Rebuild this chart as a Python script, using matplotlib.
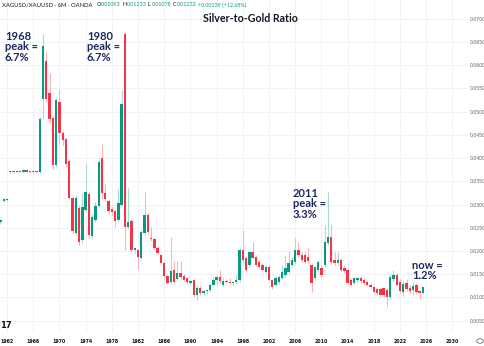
import matplotlib
matplotlib.use("Agg")
import matplotlib.pyplot as plt
import numpy as np

# XAGUSD/XAUUSD, 6M candles (silver priced in gold), values in percent
years = np.arange(1961.0, 2026.0, 0.5)

open_pct = [2.62, 3.08, 3.11, 3.69, 3.71, 3.69, 3.70, 3.70, 3.75, 3.70,
            3.69, 3.70, 3.69, 5.26, 6.09, 5.39, 4.87, 3.86, 5.21, 4.53,
            4.40, 3.93, 3.13, 2.38, 2.92, 2.23, 2.88, 3.22, 2.32, 2.66,
            2.96, 4.01, 3.24, 3.07, 2.90, 2.85, 2.66, 3.00, 6.67, 2.51,
            2.64, 2.02, 2.02, 1.85, 2.38, 2.77, 2.26, 2.25, 2.06, 1.91,
            1.74, 1.46, 1.33, 1.59, 1.40, 1.52, 1.46, 1.42, 1.31, 1.37,
            1.05, 1.20, 1.09, 1.14, 1.16, 1.27, 1.37, 1.44, 1.27, 1.35,
            1.33, 1.31, 1.33, 1.37, 2.02, 1.84, 1.70, 1.97, 1.87, 1.76,
            1.70, 1.55, 1.65, 1.37, 1.27, 1.33, 1.42, 1.48, 1.55, 1.70,
            1.76, 2.02, 1.91, 1.91, 1.87, 1.70, 1.42, 1.59, 1.63, 1.70,
            2.17, 2.30, 1.80, 1.74, 1.80, 1.63, 1.59, 1.37, 1.31, 1.37,
            1.42, 1.37, 1.33, 1.27, 1.22, 1.18, 1.18, 1.20, 1.16, 1.01,
            1.40, 1.48, 1.33, 1.12, 1.31, 1.20, 1.16, 1.27, 1.14, 1.093]
high_pct = [2.68, 3.13, 3.13, 3.72, 3.72, 3.72, 3.73, 3.77, 3.76, 3.71,
            3.71, 3.71, 4.88, 6.67, 6.30, 5.82, 4.91, 5.30, 5.49, 4.59,
            4.44, 3.99, 3.18, 3.20, 2.98, 3.24, 3.88, 3.26, 2.79, 3.05,
            3.99, 4.31, 3.45, 3.11, 2.94, 2.88, 3.35, 5.47, 6.71, 3.35,
            2.70, 2.08, 2.04, 2.45, 3.26, 2.81, 2.51, 2.28, 2.10, 1.94,
            1.78, 1.50, 2.30, 1.78, 1.78, 1.78, 1.50, 1.44, 1.37, 1.40,
            1.27, 1.24, 1.16, 1.18, 1.31, 1.44, 1.48, 1.59, 1.42, 1.40,
            1.41, 1.35, 1.48, 2.07, 2.45, 1.90, 2.00, 2.19, 1.92, 1.80,
            1.74, 1.69, 1.70, 1.40, 1.46, 1.48, 1.70, 1.91, 2.00, 1.87,
            2.27, 2.19, 1.98, 1.97, 2.08, 1.74, 1.68, 1.80, 1.70, 2.55,
            3.26, 2.55, 1.98, 1.97, 1.85, 1.70, 1.63, 1.40, 1.45, 1.45,
            1.46, 1.41, 1.37, 1.31, 1.25, 1.20, 1.22, 1.22, 1.20, 1.50,
            1.59, 1.52, 1.40, 1.35, 1.40, 1.27, 1.33, 1.31, 1.16, 1.233]
low_pct = [2.58, 3.06, 3.08, 3.68, 3.68, 3.68, 3.69, 3.69, 3.69, 3.68,
           3.68, 3.68, 3.68, 4.85, 5.20, 4.74, 3.77, 3.80, 4.31, 4.27,
           3.80, 3.11, 2.38, 2.34, 2.12, 2.17, 2.83, 2.27, 2.27, 2.62,
           2.92, 3.11, 3.07, 2.81, 2.77, 2.51, 2.62, 2.98, 2.02, 2.47,
           1.98, 1.96, 1.61, 1.80, 2.34, 2.36, 2.21, 2.03, 1.93, 1.72,
           1.43, 1.28, 1.28, 1.28, 1.35, 1.40, 1.35, 1.30, 1.28, 1.00,
           0.94, 1.05, 1.05, 1.07, 1.12, 1.24, 1.30, 1.31, 1.24, 1.31,
           1.29, 1.27, 1.30, 1.33, 1.76, 1.55, 1.66, 1.82, 1.68, 1.62,
           1.56, 1.52, 1.35, 1.18, 1.24, 1.30, 1.40, 1.45, 1.52, 1.66,
           1.72, 1.87, 1.76, 1.72, 1.74, 1.12, 1.38, 1.55, 1.45, 1.66,
           2.12, 1.72, 1.70, 1.70, 1.55, 1.52, 1.28, 1.24, 1.28, 1.33,
           1.32, 1.27, 1.24, 1.19, 1.09, 1.06, 1.02, 1.02, 0.79, 0.97,
           1.35, 1.24, 1.10, 1.03, 1.15, 1.09, 1.05, 1.07, 0.97, 1.078]
close_pct = [2.66, 3.11, 3.09, 3.71, 3.69, 3.70, 3.72, 3.75, 3.70, 3.69,
             3.70, 3.69, 4.83, 6.42, 5.26, 4.83, 3.84, 5.24, 4.53, 4.38,
             3.88, 3.15, 2.42, 3.13, 2.19, 2.94, 3.26, 2.34, 2.73, 2.96,
             3.91, 3.24, 3.11, 2.85, 2.83, 2.64, 3.03, 5.17, 2.51, 2.62,
             2.02, 2.06, 1.87, 2.40, 2.77, 2.40, 2.25, 2.06, 1.95, 1.74,
             1.46, 1.31, 1.57, 1.33, 1.52, 1.44, 1.37, 1.33, 1.35, 1.05,
             1.20, 1.09, 1.14, 1.16, 1.27, 1.37, 1.44, 1.35, 1.35, 1.33,
             1.31, 1.33, 1.37, 2.02, 1.80, 1.59, 1.97, 1.85, 1.70, 1.65,
             1.59, 1.65, 1.37, 1.22, 1.42, 1.44, 1.55, 1.63, 1.74, 1.80,
             2.02, 1.91, 1.80, 1.76, 1.78, 1.31, 1.65, 1.76, 1.48, 2.19,
             2.30, 1.76, 1.74, 1.80, 1.59, 1.57, 1.31, 1.27, 1.42, 1.42,
             1.35, 1.31, 1.27, 1.22, 1.12, 1.09, 1.05, 1.05, 1.01, 1.45,
             1.48, 1.27, 1.14, 1.29, 1.18, 1.14, 1.25, 1.12, 1.09, 1.232]

year_ticks = list(range(1962, 2031, 4))
price_ticks = [0.005, 0.010, 0.015, 0.020, 0.025, 0.030, 0.035,
               0.040, 0.045, 0.050, 0.055, 0.060, 0.065, 0.070]

o = np.array(open_pct) / 100
h = np.array(high_pct) / 100
l = np.array(low_pct) / 100
c = np.array(close_pct) / 100
up = c >= o

UP, DOWN = "#089981", "#f23645"
UP_WICK, DOWN_WICK = "#a6dcd3", "#f9b4ba"
NAVY = "#1c2b5e"

W, H = 485, 346
fig = plt.figure(figsize=(W / 100, H / 100), dpi=100)
fig.patch.set_facecolor("white")
ax = fig.add_axes([0, 13 / H, 468 / W, 333 / H])

# wicks first, bodies on top
ax.vlines(years, l, h, colors=np.where(up, UP_WICK, DOWN_WICK), lw=0.8, zorder=2)
body = np.maximum(np.abs(c - o), 0.00022)
ax.bar(years, body, bottom=np.minimum(o, c), width=0.36,
       color=np.where(up, UP, DOWN), lw=0, zorder=3)

ax.set_xlim(1960.93, 2032.38)
ax.set_ylim(0.00236, 0.0740)
ax.set_xticks(year_ticks)
ax.set_yticks(price_ticks, labels=[f"{v:.4f}" for v in price_ticks])
ax.yaxis.tick_right()
ax.grid(color="#f0f2f6", lw=0.7)
ax.set_axisbelow(True)
for s in ax.spines.values():
    s.set_visible(False)
ax.tick_params(axis="y", length=0, pad=1.5, labelsize=3.3, labelcolor="#5d606b")
ax.tick_params(axis="x", length=0, pad=4.5, labelsize=3.4, labelcolor="#131722")
for t in ax.get_xticklabels():
    t.set_fontweight("bold")


def px(x, y):
    return x / W, 1 - y / H


# header line
fig.text(*px(2, 5), "XAGUSD/XAUUSD · 6M · OANDA", fontsize=4.2, color="#131722",
         va="center", family="Lato")
for x0, lab, val in [(97, "O", "0.01093"), (123, "H", "0.01233"),
                     (148, "L", "0.01078"), (173, "C", "0.01232")]:
    fig.text(*px(x0, 5), lab, fontsize=3.9, color="#131722", va="center", family="Lato")
    fig.text(*px(x0 + 3.5, 5), val, fontsize=3.9, color=UP, va="center", family="Lato")
fig.text(*px(198, 5), "+0.00139 (+12.68%)", fontsize=3.9, color=UP, va="center",
         family="Lato")

fig.text(*px(250, 19), "Silver-to-Gold Ratio", fontsize=7.7, fontweight="bold",
         color="#131722", ha="center", va="center", family="Lato")

notes = [(5, 31, "1968\npeak =\n6.7%"), (87, 31, "1980\npeak =\n6.7%"),
         (293, 188, "2011\npeak =\n3.3%"), (412, 260, "now =\n1.2%")]
for x0, y0, s in notes:
    fig.text(*px(x0, y0), s, fontsize=8, fontweight="bold", color=NAVY,
             va="top", ha="left", linespacing=0.92, family="Lato")

# logo and settings icon
fig.text(*px(0, 326), "17", fontsize=6, fontweight="heavy", color="#131722",
         va="center", ha="left")
fig.add_artist(plt.Circle(px(480, 341), 3.2 / W, transform=fig.transFigure,
                          fill=False, ec="#6a6d78", lw=0.6))

fig.savefig("out.png", dpi=100)
